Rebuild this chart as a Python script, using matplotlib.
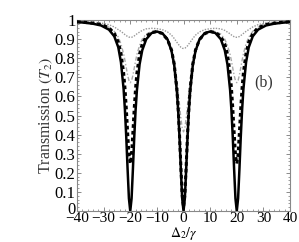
import matplotlib
matplotlib.use("Agg")
import matplotlib.pyplot as plt
from matplotlib.ticker import MultipleLocator
from matplotlib.transforms import ScaledTranslation

# detuning grid (Delta_2 / gamma), denser around the three dips
detuning = [-40, -37, -34, -31, -28, -26, -24.5, -23.5, -22.5, -22, -21.5, -21, -20.5,
            -20, -19.5, -19, -18.5, -18, -17.5, -16.5, -15.5, -14, -12, -10, -8, -6,
            -4.5, -3.5, -2.5, -2, -1.5, -1, -0.5, 0,
            0.5, 1, 1.5, 2, 2.5, 3.5, 4.5, 6, 8, 10, 12, 14, 15.5, 16.5, 17.5, 18,
            18.5, 19, 19.5, 20, 20.5, 21, 21.5, 22, 22.5, 23.5, 24.5, 26, 28, 31,
            34, 37, 40]

t_solid = [0.990, 0.986, 0.981, 0.972, 0.950, 0.915, 0.858, 0.780, 0.640, 0.530, 0.388,
           0.220, 0.066, 0.0, 0.066, 0.220, 0.387, 0.527, 0.633, 0.768, 0.842, 0.900,
           0.932, 0.940, 0.932, 0.899, 0.838, 0.765, 0.630, 0.524, 0.385, 0.218,
           0.066, 0.0,
           0.066, 0.218, 0.385, 0.524, 0.630, 0.765, 0.838, 0.899, 0.932, 0.940,
           0.932, 0.900, 0.842, 0.768, 0.633, 0.527, 0.387, 0.220, 0.066, 0.0,
           0.066, 0.220, 0.388, 0.530, 0.640, 0.780, 0.858, 0.915, 0.950, 0.972,
           0.981, 0.986, 0.990]

t_dashed = [0.991, 0.988, 0.984, 0.977, 0.960, 0.930, 0.885, 0.828, 0.725, 0.645, 0.539,
            0.413, 0.297, 0.248, 0.297, 0.412, 0.537, 0.642, 0.722, 0.822, 0.875, 0.915,
            0.935, 0.940, 0.929, 0.898, 0.843, 0.771, 0.639, 0.535, 0.398, 0.235,
            0.084, 0.020,
            0.084, 0.235, 0.398, 0.535, 0.639, 0.771, 0.843, 0.898, 0.929, 0.940,
            0.935, 0.915, 0.875, 0.822, 0.722, 0.642, 0.537, 0.412, 0.297, 0.248,
            0.297, 0.413, 0.539, 0.645, 0.725, 0.828, 0.885, 0.930, 0.960, 0.977,
            0.984, 0.988, 0.991]

t_dashdot = [0.991, 0.989, 0.985, 0.978, 0.963, 0.941, 0.911, 0.876, 0.824, 0.789, 0.750,
             0.713, 0.684, 0.672, 0.683, 0.711, 0.748, 0.786, 0.820, 0.867, 0.900, 0.927,
             0.940, 0.942, 0.926, 0.893, 0.840, 0.780, 0.686, 0.624, 0.555, 0.487,
             0.435, 0.415,
             0.435, 0.487, 0.555, 0.624, 0.686, 0.780, 0.840, 0.893, 0.926, 0.942,
             0.940, 0.927, 0.900, 0.867, 0.820, 0.786, 0.748, 0.711, 0.683, 0.672,
             0.684, 0.713, 0.750, 0.789, 0.824, 0.876, 0.911, 0.941, 0.963, 0.978,
             0.985, 0.989, 0.991]

t_dotted = [0.994, 0.992, 0.989, 0.985, 0.976, 0.964, 0.950, 0.941, 0.930, 0.924, 0.919,
            0.914, 0.911, 0.910, 0.910, 0.913, 0.917, 0.922, 0.928, 0.937, 0.946, 0.954,
            0.957, 0.955, 0.950, 0.938, 0.921, 0.904, 0.884, 0.875, 0.865, 0.858,
            0.853, 0.851,
            0.853, 0.858, 0.865, 0.875, 0.884, 0.904, 0.921, 0.938, 0.950, 0.955,
            0.957, 0.954, 0.946, 0.937, 0.928, 0.922, 0.917, 0.913, 0.910, 0.910,
            0.911, 0.914, 0.919, 0.924, 0.930, 0.941, 0.950, 0.964, 0.976, 0.985,
            0.989, 0.992, 0.994]

plt.rcParams["font.family"] = ["Liberation Serif", "DejaVu Serif"]
plt.rcParams["mathtext.fontset"] = "stix"

fig = plt.figure(figsize=(2.99, 2.42), dpi=100)
ax = fig.add_axes([0.2575, 0.128, 0.7125, 0.789])

ax.plot(detuning, t_dotted, color="#999999", linestyle=(0, (1, 1)), linewidth=1.0, zorder=2)
ax.plot(detuning, t_dashdot, color="#aaaaaa", linestyle=(0, (3, 1.5, 1, 1.5)), linewidth=1.0, zorder=2)
ax.plot(detuning, t_solid, color="black", linestyle="-", linewidth=1.8, zorder=3)
ax.plot(detuning, t_dashed, color="black", linestyle=(0, (1.2, 1.0)), linewidth=2.2, zorder=4)

ax.set_xlim(-40, 40)
ax.set_ylim(0, 1)
ax.xaxis.set_major_locator(MultipleLocator(10))
ax.xaxis.set_minor_locator(MultipleLocator(2))
ax.yaxis.set_minor_locator(MultipleLocator(0.02))
ax.set_yticks([0, 0.1, 0.2, 0.3, 0.4, 0.5, 0.6, 0.7, 0.8, 0.9, 1.0])
ax.set_yticklabels(["0", "0.1", "0.2", "0.3", "0.4", "0.5", "0.6", "0.7", "0.8", "0.9", "1"])
ax.tick_params(which="both", direction="in", top=True, right=True, color="#777777")
ax.tick_params(axis="y", pad=1, labelsize=12)
ax.tick_params(axis="x", pad=0.5, labelsize=11)
ax.tick_params(which="major", length=3, width=0.6)
ax.tick_params(which="minor", length=1.5, width=0.5)
for s in ax.spines.values():
    s.set_color("#888888")
    s.set_linewidth(0.8)

# nudge the lowest y label up a little, as in the original
lab0 = ax.get_yticklabels()[0]
lab0.set_transform(lab0.get_transform() + ScaledTranslation(0, 2.5 / 72, fig.dpi_scale_trans))

ax.set_xlabel(r"$\Delta_2/\gamma$", fontsize=10, va="bottom")
ax.xaxis.set_label_coords(0.5, -0.163)
ax.set_ylabel(r"Transmission $(T_2)$", fontsize=11.5, labelpad=0, color="#333333")
ax.text(30.2, 0.675, "(b)", fontsize=11.5, ha="center", va="center", color="#333333")

fig.savefig("out.png", dpi=100, facecolor="white")
